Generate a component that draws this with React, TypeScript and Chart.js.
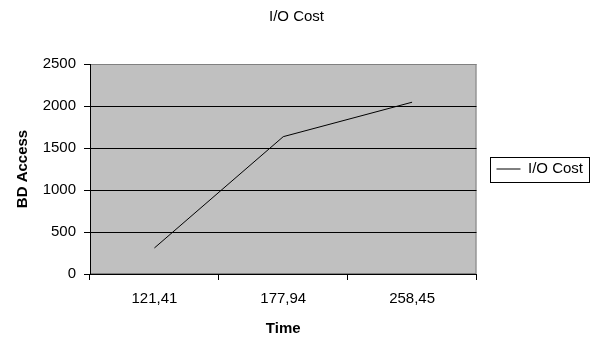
import React, { useEffect, useRef } from "react";
import { Chart, registerables } from "chart.js";

Chart.register(...registerables);

const categories = ["121,41", "177,94", "258,45"];
const ioCost = [310, 1635, 2045];
const yMin = 0;
const yMax = 2500;
const yStep = 500;
const seriesLabel = "I/O Cost";
const chartTitle = "I/O Cost";
const xTitle = "Time";
const yTitle = "BD Access";

const FONT = "'Liberation Sans', Arial, sans-serif";

const plotBg = {
  id: "plotBg",
  beforeDraw(chart: any) {
    const { ctx, chartArea: a } = chart;
    ctx.save();
    ctx.fillStyle = "#c0c0c0";
    ctx.fillRect(a.left, a.top, a.right - a.left, a.bottom - a.top);
    ctx.strokeStyle = "#808080";
    ctx.lineWidth = 1;
    ctx.strokeRect(a.left + 0.5, a.top + 0.5, a.right - a.left - 1, a.bottom - a.top - 1);
    ctx.restore();
  },
};

const legendBorder = {
  id: "legendBorder",
  afterDraw(chart: any) {
    const lg = chart.legend;
    if (!lg || !lg.legendHitBoxes || !lg.legendHitBoxes.length) return;
    const hb = lg.legendHitBoxes[0];
    const ctx = chart.ctx;
    ctx.save();
    ctx.strokeStyle = "#000";
    ctx.lineWidth = 1;
    const x0 = Math.round(hb.left - 6) + 0.5;
    const y0 = Math.round(hb.top - 5) + 0.5;
    const x1 = Math.round(hb.left + hb.width + 6) + 0.5;
    const y1 = Math.round(hb.top + hb.height + 5) + 0.5;
    ctx.strokeRect(x0, y0, x1 - x0, y1 - y0);
    ctx.restore();
  },
};

export default function App() {
  const ref = useRef<HTMLCanvasElement | null>(null);

  useEffect(() => {
    if (!ref.current) return;
    const chart = new Chart(ref.current, {
      type: "line",
      data: {
        labels: categories,
        datasets: [
          {
            label: seriesLabel,
            data: ioCost,
            borderColor: "#000",
            backgroundColor: "#000",
            borderWidth: 1,
            pointRadius: 0,
            pointHoverRadius: 0,
            tension: 0,
            fill: false,
          },
        ],
      },
      options: {
        responsive: false,
        animation: false,
        maintainAspectRatio: false,
        layout: { padding: { left: 0, right: 5, top: 0, bottom: 0 } },
        plugins: {
          title: {
            display: true,
            text: chartTitle,
            color: "#000",
            font: { family: FONT, size: 15, weight: "normal" },
            padding: { top: 8, bottom: 38 },
          },
          legend: {
            display: true,
            position: "right",
            fullSize: false,
            labels: {
              usePointStyle: true,
              pointStyle: "line",
              pointStyleWidth: 24,
              color: "#000",
              font: { family: FONT, size: 15 },
              padding: 20,
            },
          },
          tooltip: { enabled: false },
        },
        scales: {
          x: {
            type: "category",
            offset: true,
            afterFit(scale: any) {
              scale.height = 68;
            },
            grid: {
              offset: true,
              drawOnChartArea: false,
              drawTicks: true,
              tickLength: 6,
              tickColor: "#000",
              color: "#000",
            },
            border: { display: true, color: "#000", width: 1 },
            ticks: {
              color: "#000",
              font: { family: FONT, size: 15 },
              padding: 10,
              maxRotation: 0,
            },
            title: {
              display: true,
              text: xTitle,
              color: "#000",
              font: { family: FONT, size: 15, weight: "bold" },
              padding: { top: 0, bottom: 4 },
            },
          },
          y: {
            min: yMin,
            max: yMax,
            afterFit(scale: any) {
              scale.width = 90;
            },
            grid: {
              color: (c: any) => (c.tick && c.tick.value === yMax ? "#808080" : "#000"),
              tickColor: "#000",
              tickLength: 6,
              drawTicks: true,
            },
            border: { display: true, color: "#000", width: 1 },
            ticks: {
              stepSize: yStep,
              color: "#000",
              font: { family: FONT, size: 15 },
              padding: 8,
              callback: (v: any) => String(v),
            },
            title: {
              display: true,
              text: yTitle,
              color: "#000",
              font: { family: FONT, size: 15, weight: "bold" },
              padding: { top: 14, bottom: 0 },
            },
          },
        },
      },
      plugins: [plotBg, legendBorder],
    });
    return () => chart.destroy();
  }, []);

  return (
    <div style={{ position: "fixed", left: 0, top: 0, width: 598, height: 342, background: "#fff" }}>
      <canvas ref={ref} width={598} height={342} style={{ width: 598, height: 342, display: "block" }} />
    </div>
  );
}
